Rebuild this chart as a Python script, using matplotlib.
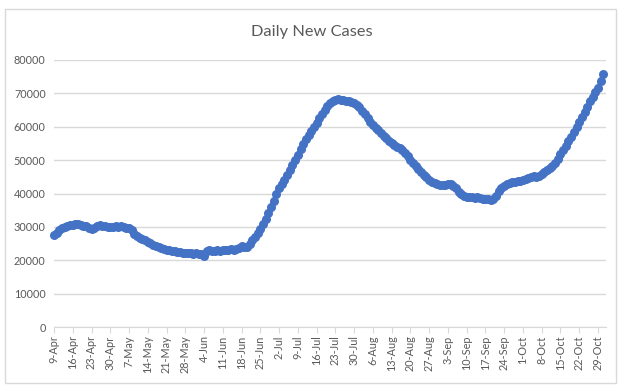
import matplotlib
matplotlib.use("Agg")
import matplotlib.pyplot as plt
from matplotlib.patches import Rectangle
import numpy as np
import pandas as pd

# daily new cases, 9-Apr .. 31-Oct (one row per week)
cases = [
    27500, 28300, 29000, 29600, 30100, 30400, 30600,   # 9-Apr
    30700, 30900, 30900, 30700, 30400, 30200, 29700,   # 16-Apr
    29400, 29600, 30400, 30600, 30400, 30200, 30100,   # 23-Apr
    30000, 30000, 30200, 30100, 30300, 30000, 29800,   # 30-Apr
    29600, 29000, 27800, 27200, 26800, 26400, 26000,   # 7-May
    25600, 25100, 24600, 24200, 23900, 23600, 23400,   # 14-May
    23200, 23000, 22800, 22700, 22600, 22500, 22300,   # 21-May
    22200, 22100, 22100, 22000, 22100, 22000, 21900,   # 28-May
    21400, 22800, 23000, 22900, 22900, 23000, 22900,   # 4-Jun
    23000, 23100, 23200, 23300, 23200, 23300, 23700,   # 11-Jun
    24300, 24000, 24100, 25000, 26000, 27000, 28200,   # 18-Jun
    29500, 31000, 32500, 34200, 36000, 37800, 39800,   # 25-Jun
    41500, 42800, 44000, 45500, 47000, 48400, 50000,   # 2-Jul
    51600, 53200, 54800, 56200, 57500, 58800, 60000,   # 9-Jul
    61200, 62600, 63900, 65100, 66200, 67000, 67600,   # 16-Jul
    68000, 68200, 68100, 67900, 67800, 67600, 67400,   # 23-Jul
    67100, 66500, 65800, 64800, 63800, 62600, 61500,   # 30-Jul
    60600, 59700, 58900, 58000, 57300, 56600, 55800,   # 6-Aug
    55000, 54500, 54000, 53600, 52900, 52000, 51100,   # 13-Aug
    50100, 49100, 48100, 47200, 46300, 45500, 44800,   # 20-Aug
    44100, 43500, 43100, 42800, 42600, 42500, 42600,   # 27-Aug
    42800, 42700, 42300, 41500, 40500, 39900, 39400,   # 3-Sep
    39100, 39000, 38900, 38800, 38900, 38600, 38400,   # 10-Sep
    38300, 38300, 38200, 38500, 39400, 40800, 41600,   # 17-Sep
    42200, 42800, 43200, 43400, 43500, 43700, 43800,   # 24-Sep
    44000, 44200, 44500, 45000, 45200, 44900, 45300,   # 1-Oct
    45800, 46300, 46900, 47500, 48300, 49200, 50400,   # 8-Oct
    51800, 53000, 54200, 55600, 57000, 58400, 60000,   # 15-Oct
    61500, 63000, 64500, 66000, 67600, 69000, 70400,   # 22-Oct
    71600, 73700, 75800,                               # 29-Oct
]
start = "2020-04-09"
title = "Daily New Cases"

dates = pd.date_range(start, periods=len(cases), freq="D")
day = np.arange(len(cases))
tick_days = day[::7]
tick_labels = [f"{d.day}-{d.strftime('%b')}" for d in dates[::7]]

plt.rcParams["font.family"] = ["Lato", "DejaVu Sans"]
grey = "#595959"
blue = "#4472C4"

fig = plt.figure(figsize=(6.24, 3.91), dpi=100)
fig.patches.append(Rectangle((5 / 624, 1 - 383 / 391), 611 / 624, 374 / 391,
                             transform=fig.transFigure, fill=False,
                             edgecolor="#D9D9D9", linewidth=1))
ax = fig.add_axes([54 / 624, 1 - 327 / 391, 552 / 624, 267 / 391])

ax.plot(day, cases, color=blue, linewidth=3, marker="o", markersize=6.5,
        markeredgewidth=0, clip_on=False, zorder=3)

ax.set_xlim(0, 206)
ax.set_ylim(0, 80000)
ax.set_yticks(np.arange(0, 80001, 10000))
ax.set_xticks(tick_days)
ax.set_xticklabels(tick_labels, rotation=90)
ax.grid(axis="y", color="#D9D9D9", linewidth=1)
ax.set_axisbelow(True)
for s in ["top", "right", "left"]:
    ax.spines[s].set_visible(False)
ax.spines["bottom"].set_color("#D9D9D9")
ax.tick_params(axis="y", length=0, labelsize=7.8, labelcolor=grey, pad=6)
ax.tick_params(axis="x", length=4, color="#D9D9D9", labelsize=7.8,
               labelcolor=grey, pad=2)

fig.text(0.5, 1 - 32 / 391, title, ha="center", va="center",
         fontsize=11.8, color=grey)

fig.savefig("out.png", dpi=100)
